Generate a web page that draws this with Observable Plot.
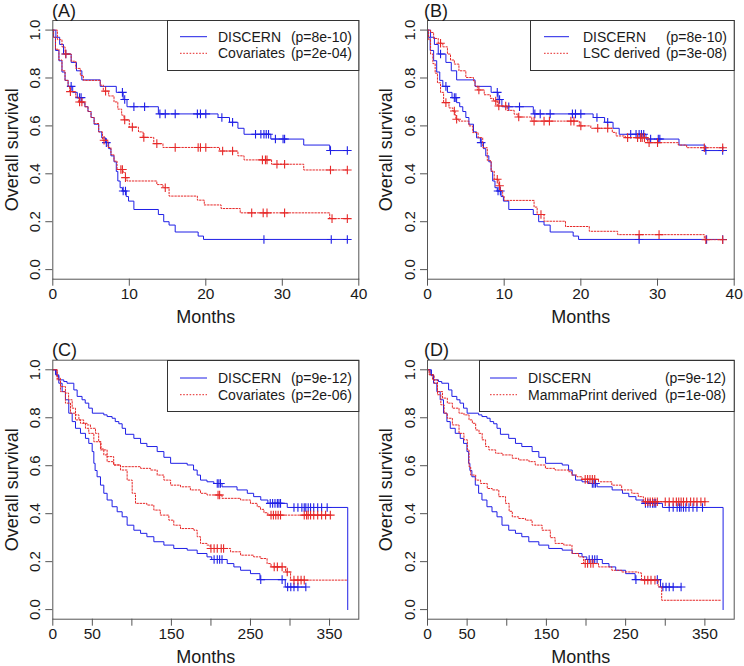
<!DOCTYPE html>
<html>
<head>
<meta charset="utf-8">
<script src="https://cdn.jsdelivr.net/npm/d3@7"></script>
<script src="https://cdn.jsdelivr.net/npm/@observablehq/plot@0.6"></script>
<style>
  html, body { margin: 0; padding: 0; background: white; }
  #root { position: relative; width: 744px; height: 666px; overflow: hidden; font-family: "Liberation Sans", Arial, sans-serif; }
  .panel { position: absolute; width: 372px; height: 333px; }
  .panel svg.overlay { position: absolute; left: 0; top: 0; pointer-events: none; }
</style>
</head>
<body>
<div id="root"></div>
<script>
// ---------------- DATA ----------------
const yTicks = [0, 0.2, 0.4, 0.6, 0.8, 1.0];
const xTicksAB = [0, 10, 20, 30, 40];
const xTicksCD = [0, 50, 100, 150, 200, 250, 300, 350];
const xLabelsCD = [0, 50, 150, 250, 350];
const panelTitles = ["(A)", "(B)", "(C)", "(D)"];
const legendNames = [["DISCERN", "Covariates"], ["DISCERN", "LSC derived"], ["DISCERN", "Covariates"], ["DISCERN", "MammaPrint derived"]];
const legendP = [["(p=8e-10)", "(p=2e-04)"], ["(p=8e-10)", "(p=3e-08)"], ["(p=9e-12)", "(p=2e-06)"], ["(p=9e-12)", "(p=1e-08)"]];

// Panels A/B: DISCERN (months 0-40)
const discernHighAB = [[0,1],[0.4,0.97],[0.9,0.94],[1.4,0.9],[2.4,0.865],[3.1,0.83],[3.8,0.792],[6.2,0.765],[8.3,0.74],[9.2,0.71],[9.7,0.68],[13.8,0.65],[21.6,0.635],[23.1,0.615],[24.2,0.59],[25.0,0.565],[28.5,0.545],[32.8,0.52],[36.2,0.497],[38.6,0.497]];
const discernHighABCens = [1.7,9.1,9.4,10.6,12.0,14.0,14.7,16.0,18.9,19.3,20.0,22.1,23.5,26.5,27.2,27.6,27.9,28.2,29.1,30.1,30.3,36.3,38.5];
const discernLowAB = [[0,1],[0.1,0.97],[0.35,0.915],[0.8,0.872],[1.2,0.825],[1.6,0.79],[2.0,0.765],[2.6,0.74],[3.2,0.718],[3.8,0.697],[4.2,0.68],[4.6,0.66],[5.0,0.635],[5.4,0.607],[6.0,0.575],[6.4,0.55],[6.9,0.53],[7.3,0.505],[7.6,0.475],[8.0,0.45],[8.3,0.41],[8.5,0.37],[8.8,0.342],[9.1,0.328],[9.6,0.305],[9.9,0.286],[10.6,0.251],[13.8,0.23],[14.5,0.2],[15.2,0.186],[16.0,0.157],[19.0,0.14],[19.7,0.126],[38.6,0.126]];
const discernLowABCens = [2.4,3.5,3.7,7.0,9.2,9.5,27.6,36.4,38.5];

// Panel A: Covariates
const covHighA = [[0,1],[0.6,0.96],[1.2,0.93],[1.6,0.9],[2.4,0.87],[3.0,0.84],[3.6,0.81],[4.0,0.79],[6.2,0.77],[6.6,0.745],[7.3,0.725],[8.0,0.70],[8.5,0.67],[9.0,0.645],[9.3,0.625],[10.0,0.595],[11.2,0.575],[11.8,0.552],[13.2,0.526],[14.4,0.51],[21.8,0.495],[24.2,0.475],[25.0,0.458],[28.6,0.44],[32.8,0.416],[38.6,0.416]];
const covHighACens = [1.7,6.9,9.4,10.4,11.9,13.6,16.0,19.0,19.3,20.0,22.2,23.5,27.4,27.8,28.0,29.3,30.3,36.3,38.5];
const covLowA = [[0,1],[0.1,0.97],[0.35,0.92],[0.8,0.875],[1.2,0.83],[1.6,0.79],[2.0,0.765],[2.2,0.743],[3.0,0.72],[3.4,0.70],[4.2,0.68],[4.6,0.66],[5.0,0.635],[5.4,0.61],[6.0,0.575],[6.5,0.54],[7.2,0.51],[7.6,0.48],[8.0,0.453],[8.4,0.418],[9.2,0.405],[9.5,0.384],[9.7,0.37],[13.6,0.355],[14.4,0.342],[15.2,0.307],[18.9,0.29],[19.8,0.27],[22.0,0.255],[24.5,0.237],[36.2,0.213],[38.6,0.213]];
const covLowACens = [2.3,3.5,3.8,6.7,8.9,9.1,9.5,14.7,26.0,27.5,28.0,30.3,36.5,38.5];

// Panel B: LSC derived
const lscHighB = [[0,1],[0.4,0.99],[0.8,0.965],[1.4,0.945],[2.0,0.93],[2.6,0.9],[3.0,0.875],[3.5,0.858],[4.1,0.83],[5.0,0.802],[6.0,0.788],[6.2,0.767],[6.5,0.75],[7.4,0.73],[8.2,0.715],[8.6,0.704],[9.1,0.683],[10.4,0.665],[11.3,0.649],[11.8,0.637],[13.6,0.62],[19.8,0.6],[21.3,0.59],[24.1,0.573],[24.6,0.558],[25.8,0.551],[28.7,0.53],[32.7,0.52],[33.8,0.509],[38.6,0.509]];
const lscHighBCens = [1.7,6.7,8.9,9.3,10.2,11.9,13.9,15.2,15.9,18.7,19.1,20.0,22.2,23.5,26.1,27.4,27.8,28.0,28.3,28.9,30.0,36.1,38.5];
const lscLowB = [[0,1],[0.15,0.96],[0.4,0.9],[0.7,0.86],[1.0,0.82],[1.3,0.78],[1.7,0.74],[2.1,0.697],[2.8,0.675],[3.3,0.662],[3.6,0.645],[3.7,0.628],[4.1,0.62],[5.4,0.6],[5.9,0.572],[6.6,0.551],[7.2,0.509],[7.8,0.455],[8.3,0.411],[8.7,0.377],[9.3,0.35],[9.5,0.33],[9.8,0.307],[10.0,0.289],[13.9,0.261],[14.3,0.23],[15.2,0.202],[18.0,0.18],[21.1,0.16],[24.8,0.146],[36.1,0.125],[38.6,0.125]];
const lscLowBCens = [2.4,3.5,3.8,9.1,9.4,14.8,27.6,30.2,36.3,38.5];

// Panels C/D: DISCERN (months 0-387)
const discernHighCD = [[0,1],[5,0.975],[7.6,0.958],[13.9,0.951],[18,0.944],[26.6,0.916],[30.8,0.889],[37,0.875],[41,0.861],[45.5,0.84],[50,0.819],[64.5,0.812],[68.7,0.805],[75,0.798],[79,0.784],[83.5,0.775],[87.7,0.756],[92,0.731],[102.5,0.714],[111,0.693],[119,0.68],[132,0.659],[140.5,0.635],[149,0.61],[170,0.603],[178,0.582],[182.6,0.561],[186.8,0.54],[195,0.533],[203.7,0.526],[214,0.512],[233,0.499],[246,0.485],[254,0.471],[263,0.457],[272,0.443],[296.5,0.426],[373,0]];
const discernHighCDCens = [208,210,212,275,278,281,284,286,288,305,310,315,318,320,323,326,330,335,340,347];
const discernLowCD = [[0,1],[3.4,0.979],[7.6,0.944],[11.8,0.909],[16,0.875],[20.2,0.819],[24.5,0.784],[28.7,0.756],[35,0.735],[41.3,0.714],[45.5,0.693],[49.8,0.659],[51.9,0.61],[53.5,0.58],[56,0.554],[60.3,0.519],[64.5,0.485],[68.7,0.457],[75,0.429],[81.4,0.408],[87.7,0.387],[94,0.352],[102.5,0.331],[111,0.318],[119,0.304],[127.8,0.283],[140.5,0.269],[153,0.255],[170,0.248],[182.6,0.234],[195,0.22],[201,0.209],[220.6,0.192],[229,0.178],[237.5,0.164],[250,0.15],[262,0.125],[294,0.094],[320,0.094]];
const discernLowCDCens = [204,208,211,214,263,290,297,301,305,310,320];

// Panel C: Covariates
const covHighC = [[0,1],[5.5,0.965],[9.7,0.93],[16,0.903],[20,0.875],[24.5,0.84],[28.7,0.812],[33,0.791],[39,0.777],[43.4,0.77],[47.6,0.756],[54,0.735],[58,0.70],[61,0.67],[64.5,0.645],[68.7,0.617],[77,0.603],[85.6,0.596],[111,0.589],[123.6,0.582],[132,0.561],[140.5,0.54],[149,0.519],[161.5,0.512],[174,0.499],[186.8,0.485],[195,0.478],[214,0.464],[237.5,0.457],[250,0.443],[258.5,0.429],[262.7,0.418],[267,0.404],[272,0.394],[352,0.394]];
const covHighCCens = [209,211,276,279,282,285,288,318,321,323,326,330,335,340,345,351];
const covLowC = [[0,1],[5.5,0.958],[9.7,0.909],[16,0.861],[22.4,0.819],[28.7,0.791],[35,0.777],[41.3,0.756],[45.5,0.735],[51.9,0.70],[60.3,0.666],[68.7,0.638],[77,0.603],[85.6,0.582],[94,0.54],[100.4,0.485],[104.6,0.443],[119,0.436],[127.8,0.415],[136,0.394],[146.8,0.373],[153,0.352],[161.5,0.338],[178.4,0.331],[182.6,0.304],[186.8,0.276],[195,0.269],[199,0.255],[224.8,0.241],[237.5,0.227],[254,0.22],[263,0.213],[271,0.192],[276,0.178],[294.4,0.157],[300.7,0.123],[373,0.123]];
const covLowCCens = [200,204,208,213,216,280,284,290,296.5,305,310,314,318];

// Panel D: MammaPrint derived
const mpHighD = [[0,1],[3,0.98],[6.3,0.958],[12.6,0.909],[18.9,0.882],[25,0.861],[31.4,0.84],[39.8,0.819],[46,0.812],[52.4,0.791],[56.6,0.777],[60.8,0.749],[65,0.735],[69,0.708],[73.3,0.68],[77.5,0.666],[86,0.652],[94.3,0.645],[107,0.631],[115,0.624],[128,0.617],[136,0.603],[148.8,0.589],[161,0.582],[178,0.575],[182,0.561],[188.6,0.554],[195,0.543],[215.8,0.533],[232.6,0.519],[245,0.499],[257.8,0.485],[266,0.471],[272.4,0.45],[351,0.45]];
const mpHighDCens = [199,202,205,208,211,275,278,281,284,287,290,300,305,310,314,317,320,323,327,332,336,340,345,350];
const mpLowD = [[0,1],[2,0.979],[8.4,0.944],[12.6,0.896],[16.8,0.854],[21,0.819],[25,0.798],[31.4,0.77],[39.8,0.735],[46,0.708],[50.3,0.666],[52.4,0.596],[54.5,0.561],[60.8,0.54],[67,0.526],[75.4,0.505],[81.7,0.499],[90,0.471],[98.5,0.443],[103,0.41],[107,0.387],[115,0.38],[123.6,0.373],[132,0.352],[144.6,0.331],[155,0.3],[161,0.276],[172,0.269],[182.3,0.234],[190.7,0.22],[197,0.192],[215.8,0.178],[232.6,0.164],[245,0.157],[266,0.153],[270,0.123],[291,0.095],[295.5,0.039],[370,0.039]];
const mpLowDCens = [199,202,206,209,274,278,282,287];

// ---------------- STYLE ----------------
const BLUE = "#1f1fe6";
const RED = "#e62828";
const FONT = "'Liberation Sans', Arial, Helvetica, sans-serif";

const plusSymbol = {
  draw(context, size) {
    const r = Math.sqrt(size / Math.PI);
    context.moveTo(-r, 0); context.lineTo(r, 0);
    context.moveTo(0, -r); context.lineTo(0, r);
  }
};

function survAt(curve, t) {
  let s = 1;
  for (const [ti, si] of curve) if (ti <= t) s = si;
  return s;
}

const panels = [
  { left: 0, top: 0, domain: [0, 40], ticks: xTicksAB, labels: xTicksAB,
    m: { l: 52.3, r: 13.7, t: 20, b: 54.3 },
    curves: [
      { d: discernHighAB, c: discernHighABCens, red: false },
      { d: discernLowAB, c: discernLowABCens, red: false },
      { d: covHighA, c: covHighACens, red: true },
      { d: covLowA, c: covLowACens, red: true } ],
    leg: { x0: 167, x1: 358.3, y0: 20, y1: 70, l0: 180, l1: 207, tx: 218, px: 352, rows: [36.7, 53.3] } },
  { left: 372, top: 0, domain: [0, 40], ticks: xTicksAB, labels: xTicksAB,
    m: { l: 55, r: 10.3, t: 20, b: 54.3 },
    curves: [
      { d: discernHighAB, c: discernHighABCens, red: false },
      { d: discernLowAB, c: discernLowABCens, red: false },
      { d: lscHighB, c: lscHighBCens, red: true },
      { d: lscLowB, c: lscLowBCens, red: true } ],
    leg: { x0: 158, x1: 361.7, y0: 20, y1: 70, l0: 172, l1: 197, tx: 211, px: 355, rows: [36.7, 53.3] } },
  { left: 0, top: 333, domain: [0, 387], ticks: xTicksCD, labels: xLabelsCD,
    m: { l: 52.3, r: 13.7, t: 26.7, b: 47.3 },
    curves: [
      { d: discernHighCD, c: discernHighCDCens, red: false },
      { d: discernLowCD, c: discernLowCDCens, red: false },
      { d: covHighC, c: covHighCCens, red: true },
      { d: covLowC, c: covLowCCens, red: true } ],
    leg: { x0: 167, x1: 358.3, y0: 27, y1: 78, l0: 180, l1: 207, tx: 218, px: 352, rows: [45, 61.7] } },
  { left: 372, top: 333, domain: [0, 387], ticks: xTicksCD, labels: xLabelsCD,
    m: { l: 55, r: 10.3, t: 26.7, b: 47.3 },
    curves: [
      { d: discernHighCD, c: discernHighCDCens, red: false },
      { d: discernLowCD, c: discernLowCDCens, red: false },
      { d: mpHighD, c: mpHighDCens, red: true },
      { d: mpLowD, c: mpLowDCens, red: true } ],
    leg: { x0: 107, x1: 361.7, y0: 27, y1: 78, l0: 118, l1: 145, tx: 156, px: 354, rows: [45, 61.7] } }
];

const root = document.getElementById("root");

panels.forEach((p, i) => {
  const lineMarks = [];
  const dotMarks = [];
  for (const cv of p.curves) {
    const col = cv.red ? RED : BLUE;
    lineMarks.push(Plot.line(cv.d, {
      x: d => d[0], y: d => d[1], curve: "step-after",
      stroke: col, strokeWidth: 1, strokeDasharray: cv.red ? "1.6,1.6" : null
    }));
    dotMarks.push(Plot.dot(cv.c, {
      x: t => t, y: t => survAt(cv.d, t), symbol: plusSymbol, r: 4.3,
      stroke: col, strokeWidth: 1.1, fill: "none"
    }));
  }
  const ordered = [lineMarks[0], lineMarks[1], dotMarks[0], dotMarks[1], lineMarks[2], lineMarks[3], dotMarks[2], dotMarks[3]];
  const labelSet = new Set(p.labels);
  const chart = Plot.plot({
    width: 372, height: 333,
    marginLeft: p.m.l, marginRight: p.m.r, marginTop: p.m.t, marginBottom: p.m.b,
    x: { domain: p.domain },
    y: { domain: [-0.04, 1.04] },
    style: { fontFamily: FONT, fontSize: "15px", color: "#1a1a1a", background: "white", overflow: "visible" },
    marks: [
      ...ordered,
      Plot.frame({ stroke: "#555" }),
      Plot.axisX({ ticks: p.ticks, tickFormat: d => labelSet.has(d) ? String(d) : "", tickSize: 7, tickPadding: 2,
        fontSize: 15.5, stroke: "#555", label: "Months", labelAnchor: "center", labelArrow: "none", labelOffset: 44 }),
      Plot.axisY({ ticks: yTicks, tickFormat: d3.format(".1f"), tickSize: 7, tickPadding: 6, tickRotate: -90,
        fontSize: 15, stroke: "#555", label: "Overall survival", labelAnchor: "center", labelArrow: "none", labelOffset: 48 })
    ]
  });
  chart.querySelectorAll('[aria-label="x-axis label"], [aria-label="y-axis label"]').forEach(g => {
    g.setAttribute("font-size", "18");
    g.querySelectorAll("text").forEach(t => t.style.fontSize = "18px");
  });

  const div = document.createElement("div");
  div.className = "panel";
  div.style.left = p.left + "px";
  div.style.top = p.top + "px";
  div.appendChild(chart);

  const L = p.leg;
  const ov = d3.create("svg").attr("class", "overlay").attr("width", 372).attr("height", 333)
    .style("font-family", FONT);
  ov.append("text").attr("x", 52).attr("y", p.m.t - 3.5).attr("font-size", 18).attr("fill", "#1a1a1a").text(panelTitles[i]);
  ov.append("rect").attr("x", L.x0 + 0.5).attr("y", L.y0 + 0.5).attr("width", L.x1 - L.x0).attr("height", L.y1 - L.y0)
    .attr("fill", "white").attr("stroke", "#333");
  L.rows.forEach((ry, k) => {
    ov.append("line").attr("x1", L.l0).attr("x2", L.l1).attr("y1", ry).attr("y2", ry)
      .attr("stroke", k === 0 ? BLUE : RED).attr("stroke-dasharray", k === 0 ? null : "1.6,1.6");
    ov.append("text").attr("x", L.tx).attr("y", ry + 5).attr("font-size", 14).attr("fill", "#1a1a1a").text(legendNames[i][k]);
    ov.append("text").attr("x", L.px).attr("y", ry + 5).attr("font-size", 14).attr("text-anchor", "end").attr("fill", "#1a1a1a").text(legendP[i][k]);
  });
  div.appendChild(ov.node());
  root.appendChild(div);
});
</script>
</body>
</html>
